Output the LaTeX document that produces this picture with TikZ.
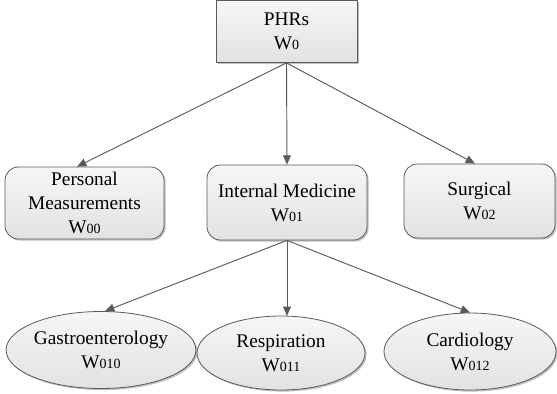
\documentclass[tikz,border=0pt]{standalone}
\usepackage{fontspec}
\setmainfont{Liberation Serif}
\usetikzlibrary{arrows.meta,shapes.geometric,shadows}
\definecolor{edgegray}{HTML}{5A5A5A}
\definecolor{topfill}{HTML}{F6F6F6}
\definecolor{botfill}{HTML}{E2E2E2}
\newcommand{\Wsub}[1]{W{\fontsize{10.5}{12}\selectfont #1}}
\tikzset{
  base/.style={draw=edgegray, line width=0.6pt, top color=topfill, bottom color=botfill,
    align=center, inner sep=0pt, font=\fontsize{14.5}{18}\selectfont, text=black,
    drop shadow={shadow xshift=1.2pt, shadow yshift=-1.2pt, fill=black, opacity=0.25}},
  sqbox/.style={base, rectangle},
  rbox/.style={base, rectangle, rounded corners=10pt},
  ell/.style={base, ellipse},
  conn/.style={draw=edgegray, line width=0.7pt, -{Triangle[length=7pt,width=6pt]}},
}
\begin{document}
\begin{tikzpicture}[x=0.75pt,y=-0.75pt]
\useasboundingbox (0,0) rectangle (557,393);
\node[sqbox, minimum width=105.75pt, minimum height=46.5pt] (phr) at (286.5,31.5) {PHRs\\\Wsub{0}};
\node[rbox, minimum width=119.25pt, minimum height=54pt] (pm) at (84.5,203) {Personal\\Measurements\\\Wsub{00}};
\node[rbox, minimum width=120pt, minimum height=56.25pt] (im) at (287,202.5) {Internal Medicine\\\Wsub{01}};
\node[rbox, minimum width=113.25pt, minimum height=55.5pt] (su) at (479.5,201) {Surgical\\\Wsub{02}};
\node[ell, minimum width=136.5pt, minimum height=57.75pt] (ga) at (101,350) {Gastroenterology\\\Wsub{010}};
\node[ell, minimum width=126pt, minimum height=55.5pt] (re) at (281,353) {Respiration\\\Wsub{011}};
\node[ell, minimum width=129pt, minimum height=57.75pt] (ca) at (470,351.5) {Cardiology\\\Wsub{012}};
\draw[conn] (phr.south) -- ([xshift=-5.6pt]pm.north);
\draw[conn] (phr.south) -- (im.north);
\draw[conn] (phr.south) -- ([xshift=-3.4pt]su.north);
\draw[conn] (im.south) -- ([xshift=3pt]ga.north);
\draw[conn] (im.south) -- ([xshift=4.5pt,yshift=-0.2pt]re.north);
\draw[conn] (im.south) -- (ca.north);
\end{tikzpicture}
\end{document}
